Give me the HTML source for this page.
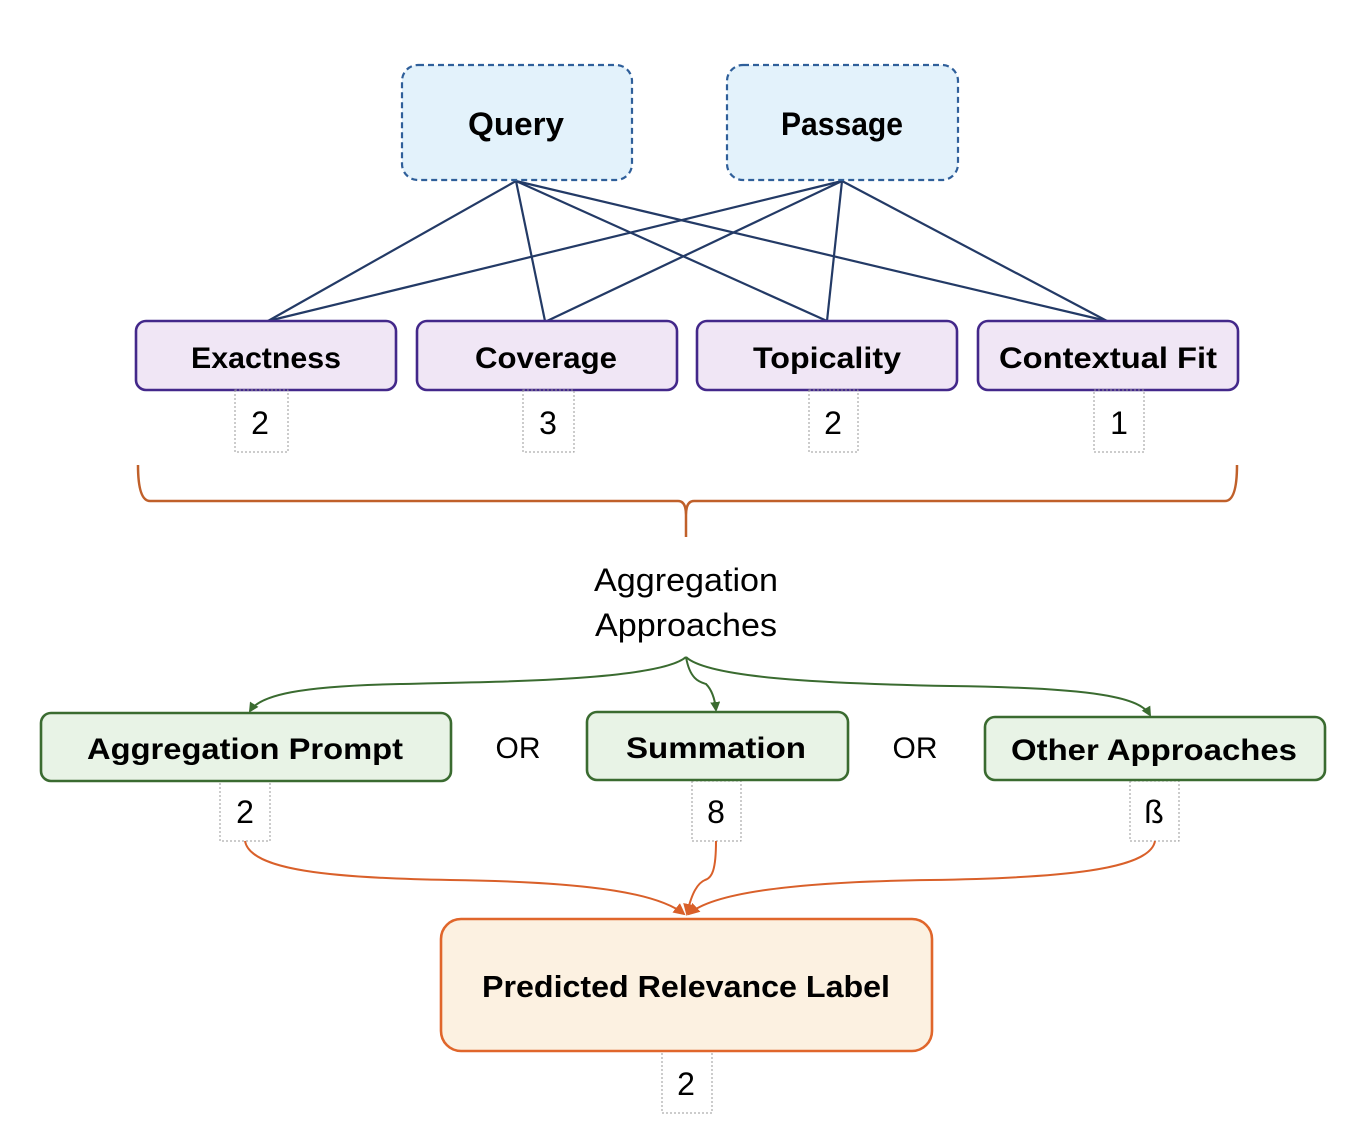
<!DOCTYPE html>
<html><head><meta charset="utf-8"><style>html,body{margin:0;padding:0;background:#fff}</style></head>
<body>
<svg width="1364" height="1128" viewBox="0 0 1364 1128" xmlns="http://www.w3.org/2000/svg" font-family="Liberation Sans, sans-serif">
<defs>
<marker id="ga" markerWidth="10" markerHeight="10" refX="8" refY="5" orient="auto" markerUnits="userSpaceOnUse"><path d="M0,0 L10,5 L0,10 z" fill="#3A6B30"/></marker>
<marker id="oa" markerWidth="12" markerHeight="12" refX="10" refY="6" orient="auto" markerUnits="userSpaceOnUse"><path d="M0,0 L12,6 L0,12 z" fill="#D9602A"/></marker>
</defs>
<g stroke="#233A66" stroke-width="2.2" fill="none">
<line x1="516" y1="181" x2="268" y2="321"/><line x1="516" y1="181" x2="545" y2="321"/>
<line x1="516" y1="181" x2="827" y2="321"/><line x1="516" y1="181" x2="1107" y2="321"/>
<line x1="842" y1="181" x2="268" y2="321"/><line x1="842" y1="181" x2="547" y2="321"/>
<line x1="842" y1="181" x2="827" y2="321"/><line x1="842" y1="181" x2="1107" y2="321"/>
</g>
<g stroke="#2F5F9A" stroke-width="2.2" stroke-dasharray="6,4" fill="#E3F2FB">
<rect x="402" y="65" width="230" height="115" rx="16"/>
<rect x="727" y="65" width="231" height="115" rx="16"/>
</g>
<g font-weight="bold" font-size="32" text-anchor="middle" fill="#000">
<text x="516" y="135" textLength="96" lengthAdjust="spacingAndGlyphs">Query</text><text x="842" y="135" textLength="122" lengthAdjust="spacingAndGlyphs">Passage</text>
</g>
<g stroke="#43288A" stroke-width="2.6" fill="#F0E6F5">
<rect x="136" y="321" width="260" height="69" rx="10"/>
<rect x="417" y="321" width="260" height="69" rx="10"/>
<rect x="697" y="321" width="260" height="69" rx="10"/>
<rect x="978" y="321" width="260" height="69" rx="10"/>
</g>
<g font-weight="bold" font-size="30" text-anchor="middle">
<text x="266" y="368" textLength="150" lengthAdjust="spacingAndGlyphs">Exactness</text>
<text x="546" y="368" textLength="142" lengthAdjust="spacingAndGlyphs">Coverage</text>
<text x="827" y="368" textLength="148" lengthAdjust="spacingAndGlyphs">Topicality</text>
<text x="1108" y="368" textLength="218" lengthAdjust="spacingAndGlyphs">Contextual Fit</text>
</g>
<g stroke="#999" stroke-width="1" stroke-dasharray="2,2" fill="none">
<rect x="235" y="390" width="53" height="62"/><rect x="523" y="390" width="51" height="62"/>
<rect x="809" y="390" width="49" height="62"/><rect x="1094" y="390" width="50" height="62"/>
<rect x="220" y="781" width="50" height="60"/><rect x="692" y="781" width="49" height="60"/>
<rect x="1130" y="781" width="49" height="60"/><rect x="662" y="1051" width="50" height="62"/>
</g>
<g font-size="32" text-anchor="middle">
<text x="260" y="434">2</text><text x="548" y="434">3</text><text x="833" y="434">2</text><text x="1119" y="434">1</text>
<text x="245" y="823">2</text><text x="716" y="823">8</text><text x="1154" y="823">ß</text><text x="686" y="1095">2</text>
</g>
<path d="M138,465 Q138,501 150,501 L678,501 Q686,501 686,515 L686,537 M686,515 Q686,501 694,501 L1225,501 Q1237,501 1237,465" stroke="#C0602A" stroke-width="2.5" fill="none"/>
<g font-size="32" text-anchor="middle">
<text x="686" y="591" textLength="184" lengthAdjust="spacingAndGlyphs">Aggregation</text><text x="686" y="636" textLength="182" lengthAdjust="spacingAndGlyphs">Approaches</text>
</g>
<g stroke="#3A6B30" stroke-width="2" fill="none">
<path d="M686,657 C660,680 500,682 400,684 C300,686 260,695 250,711" marker-end="url(#ga)"/>
<path d="M686,657 C690,680 700,682 706,684 C712,690 715,700 716,710" marker-end="url(#ga)"/>
<path d="M686,657 C710,680 850,684 950,686 C1100,688 1140,698 1150,715" marker-end="url(#ga)"/>
</g>
<g stroke="#3A6B30" stroke-width="2.6" fill="#E8F3E6">
<rect x="41" y="713" width="410" height="68" rx="10"/>
<rect x="587" y="712" width="261" height="68" rx="10"/>
<rect x="985" y="717" width="340" height="63" rx="10"/>
</g>
<g font-weight="bold" font-size="30" text-anchor="middle">
<text x="245" y="759" textLength="316" lengthAdjust="spacingAndGlyphs">Aggregation Prompt</text>
<text x="716" y="758" textLength="180" lengthAdjust="spacingAndGlyphs">Summation</text>
<text x="1154" y="760" textLength="286" lengthAdjust="spacingAndGlyphs">Other Approaches</text>
</g>
<g font-size="30" text-anchor="middle"><text x="518" y="758">OR</text><text x="915" y="758">OR</text></g>
<g stroke="#D9602A" stroke-width="2" fill="none">
<path d="M245,841 C250,870 330,878 450,880 C600,882 660,895 684,914" marker-end="url(#oa)"/>
<path d="M716,841 C716,870 712,878 705,880 C695,884 690,900 687,914" marker-end="url(#oa)"/>
<path d="M1155,841 C1150,870 1060,878 930,880 C780,882 710,895 689,914" marker-end="url(#oa)"/>
</g>
<rect x="441" y="919" width="491" height="132" rx="20" stroke="#E0662B" stroke-width="2.6" fill="#FCF1E1"/>
<text x="686" y="997" font-weight="bold" font-size="31" text-anchor="middle" textLength="408" lengthAdjust="spacingAndGlyphs">Predicted Relevance Label</text>
</svg>
</body></html>
